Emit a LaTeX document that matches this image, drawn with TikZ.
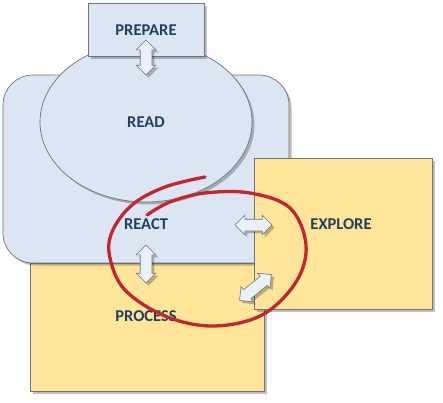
\documentclass[tikz,border=0pt]{standalone}
\usepackage{fontspec}
\setmainfont{Carlito}
\usetikzlibrary{shapes.geometric,shapes.arrows,shadows}
\definecolor{paleblue}{HTML}{DCE6F2}
\definecolor{paleyellow}{HTML}{FFE599}
\definecolor{navytext}{HTML}{243F60}
\definecolor{edgegray}{HTML}{6B7480}
\definecolor{loopred}{HTML}{C5262E}

\begin{document}
\begin{tikzpicture}[
  x=1pt, y=-1pt,
  shd/.style={drop shadow={shadow xshift=2.5pt, shadow yshift=-2.5pt, opacity=0.25, fill=black}},
  area/.style={draw=edgegray, line width=0.7pt, inner sep=0pt, shd},
  lbl/.style={font=\fontsize{16.5}{18}\selectfont\bfseries, text=navytext},
  dbl/.style={double arrow, draw=edgegray, line width=0.6pt, fill=paleblue!60!white,
    inner xsep=0pt, inner ysep=5.5pt, double arrow head extend=4pt, shd}
]
  \useasboundingbox (0,0) rectangle (443,402);

  % back to front
  \node[area, rectangle, fill=paleyellow, minimum width=234pt, minimum height=128pt] (process) at (147,327) {};
  \node[area, rectangle, rounded corners=30pt, fill=paleblue, minimum width=286pt, minimum height=188pt] (react) at (146,169) {};
  \node[area, ellipse, fill=paleblue, minimum width=212pt, minimum height=160pt] (read) at (146,122) {};
  \node[area, rectangle, fill=paleblue, minimum width=116pt, minimum height=53pt] (prepare) at (146,29.5) {};
  \node[area, rectangle, fill=paleyellow, minimum width=178pt, minimum height=151pt] (explore) at (343,233.5) {};

  \node[lbl] (prepareT) at (146,30)  {PREPARE};
  \node[lbl] (readT)    at (146,122) {READ};
  \node[lbl] (reactT)   at (146,224) {REACT};
  \node[lbl] (exploreT) at (341,224) {EXPLORE};
  \node[lbl] (processT) at (146,316) {PROCESS};

  \node[dbl, rotate=90, minimum height=35pt] (a1) at (146,57.5) {};
  \node[dbl, rotate=90, minimum height=38pt] (a2) at (146,264) {};
  \node[dbl, minimum height=37pt] (a3) at (253.5,225) {};
  \node[dbl, rotate=39, minimum height=41pt] (a4) at (255.5,287.5) {};

  % hand drawn loop
  \draw[loopred, line width=3.3pt, line cap=round] plot[smooth, tension=0.6] coordinates {
    (205,177) (165,187) (132,205) (112,232) (110,258) (125,290) (165,316) (213,326)
    (262,315) (296,282) (306,245) (290,208) (250,193) (205,193) (170,202) (147,215)};
\end{tikzpicture}
\end{document}
